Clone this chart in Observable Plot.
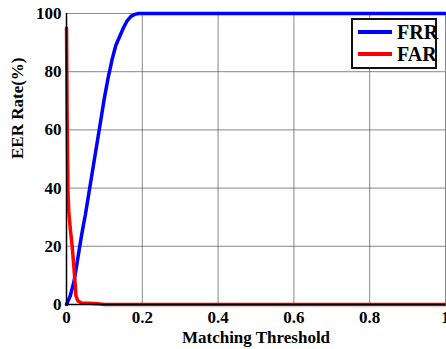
<!DOCTYPE html>
<html>
<head>
<meta charset="utf-8">
<script src="https://cdn.jsdelivr.net/npm/d3@7"></script>
<script src="https://cdn.jsdelivr.net/npm/@observablehq/plot@0.6"></script>
<style>
  html, body { margin: 0; padding: 0; background: #fff; }
  #wrap { position: relative; width: 446px; height: 349px; overflow: hidden; }
  #legend { position: absolute; left: 351px; top: 18px; width: 82px; height: 47px;
    border: 2px solid #111; background: #fff; font-family: "Liberation Serif", serif;
    font-weight: bold; font-size: 20px; }
  .row { position: absolute; left: 5px; height: 22px; display: flex; align-items: center; }
  .sw { width: 34px; height: 4px; margin-right: 5px; }
</style>
</head>
<body>
<div id="wrap"></div>
<script>
const frrX = [0, 0.01, 0.02, 0.03, 0.04, 0.05, 0.06, 0.07, 0.08, 0.09, 0.10, 0.11, 0.12, 0.13, 0.14, 0.15, 0.16, 0.17, 0.18, 0.19, 0.2, 0.4, 0.6, 0.8, 1.0];
const frrY = [0, 3, 8, 16, 24, 31, 39, 47, 55, 63, 71, 78, 84, 89, 92, 95, 97.5, 99, 99.7, 100, 100, 100, 100, 100, 100];
const farX = [0, 0.002, 0.004, 0.006, 0.01, 0.015, 0.02, 0.025, 0.03, 0.04, 0.06, 0.08, 0.1, 0.2, 0.4, 0.6, 0.8, 1.0];
const farY = [95, 60, 38, 32, 26, 20, 12, 3, 1.2, 0.5, 0.4, 0.3, 0, 0, 0, 0, 0, 0];
const seriesNames = ["FRR", "FAR"];
const seriesColors = ["#0000ff", "#ff0000"];
const xTicks = [0, 0.2, 0.4, 0.6, 0.8, 1];
const xTickLabels = ["0", "0.2", "0.4", "0.6", "0.8", "1"];
const yTicks = [0, 20, 40, 60, 80, 100];

const frr = frrX.map((x, i) => ({x, y: frrY[i]}));
const far = farX.map((x, i) => ({x, y: farY[i]}));

const font = '"Liberation Serif", "Times New Roman", serif';
const chart = Plot.plot({
  width: 446, height: 349,
  marginLeft: 66, marginRight: 1, marginTop: 13, marginBottom: 45,
  style: {fontFamily: font, fontWeight: "bold", fontSize: "17px", background: "#fff", color: "#000"},
  x: {domain: [0, 1]},
  y: {domain: [0, 100]},
  marks: [
    Plot.gridX(xTicks, {stroke: "#555", strokeOpacity: 0.7, strokeWidth: 1}),
    Plot.gridY(yTicks, {stroke: "#555", strokeOpacity: 0.7, strokeWidth: 1}),
    Plot.axisX({ticks: xTicks, tickFormat: (d) => xTickLabels[xTicks.indexOf(d)], tickSize: 0, tickPadding: 6,
      label: null, fontSize: 17, fontFamily: font, fontWeight: "bold"}),
    Plot.axisY({ticks: yTicks, tickSize: 0, tickPadding: 5,
      label: null, fontSize: 17, fontFamily: font, fontWeight: "bold"}),
    Plot.text(["Matching Threshold"], {frameAnchor: "bottom", dy: 38, text: d => d, fontSize: 17, fontFamily: font, fontWeight: "bold", fill: "#000"}),
    Plot.text(["EER Rate(%)"], {frameAnchor: "left", dx: -49, rotate: -90, text: d => d, fontSize: 17, fontFamily: font, fontWeight: "bold", fill: "#000"}),
    Plot.line(frr, {x: "x", y: "y", stroke: seriesColors[0], strokeWidth: 3.5}),
    Plot.line(far, {x: "x", y: "y", stroke: seriesColors[1], strokeWidth: 3.5}),
    Plot.ruleX([0], {stroke: "#000", strokeWidth: 1.5}),
    Plot.ruleY([0], {stroke: "#000", strokeWidth: 1.5})
  ]
});
const wrap = document.getElementById("wrap");
wrap.appendChild(chart);

const legend = document.createElement("div");
legend.id = "legend";
seriesNames.forEach((name, i) => {
  const row = document.createElement("div");
  row.className = "row";
  row.style.top = (i === 0 ? 1 : 23) + "px";
  const sw = document.createElement("div");
  sw.className = "sw";
  sw.style.background = seriesColors[i];
  const t = document.createElement("span");
  t.textContent = name;
  row.appendChild(sw); row.appendChild(t);
  legend.appendChild(row);
});
wrap.appendChild(legend);
</script>
</body>
</html>
